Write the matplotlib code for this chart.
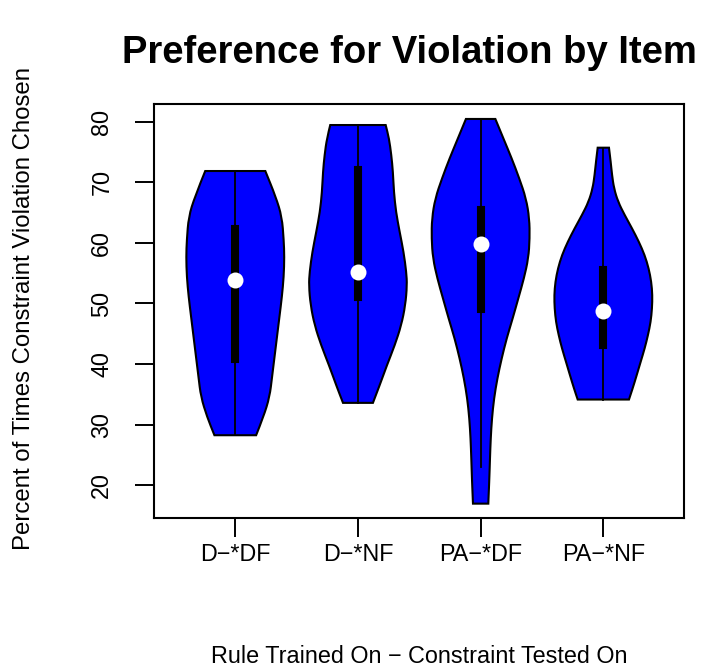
import matplotlib
matplotlib.use("Agg")
import matplotlib.pyplot as plt
from matplotlib.path import Path
from matplotlib.patches import PathPatch, Rectangle

plt.rcParams['font.family'] = ['Liberation Sans', 'DejaVu Sans']

# ---------------- data ----------------
categories = ["D\u2212*DF", "D\u2212*NF", "PA\u2212*DF", "PA\u2212*NF"]

# violin outlines: value levels (ascending) and half-widths (x units)
ddf_levels = [28.26, 31.3, 34.6, 37.9, 41.2, 44.5, 47.8, 51.1, 54.4, 57.7, 60.5, 64.3, 67.6, 71.86]
ddf_widths = [0.17, 0.23, 0.28, 0.30, 0.32, 0.34, 0.36, 0.38, 0.395, 0.40, 0.395, 0.38, 0.33, 0.245]

dnf_levels = [33.6, 36.5, 39.8, 43.1, 46.4, 49.7, 53.0, 55.2, 58.5, 61.8, 65.1, 68.4, 71.74, 74.5, 77.26, 79.45]
dnf_widths = [0.122, 0.177, 0.236, 0.30, 0.353, 0.386, 0.40, 0.394, 0.372, 0.34, 0.31, 0.293, 0.285, 0.272, 0.253, 0.226]

padf_levels = [16.97, 21.1, 24.41, 27.71, 31.01, 34.32, 37.62, 40.92, 44.23, 47.53, 50.83, 54.14,
               57.44, 60.74, 64.05, 67.35, 70.65, 73.96, 77.26, 80.45]
padf_widths = [0.0625, 0.071, 0.076, 0.082, 0.092, 0.109, 0.136, 0.171, 0.212, 0.261, 0.307, 0.353,
               0.389, 0.40, 0.397, 0.37, 0.315, 0.253, 0.185, 0.12]

panf_levels = [34.15, 35.97, 38.17, 40.36, 42.58, 44.77, 46.97, 49.18, 51.38, 53.58, 55.79, 57.99,
               60.18, 62.4, 64.59, 66.79, 69.0, 71.2, 73.39, 75.71]
panf_widths = [0.209, 0.239, 0.272, 0.304, 0.337, 0.364, 0.386, 0.397, 0.40, 0.391, 0.37, 0.337,
               0.29, 0.234, 0.174, 0.12, 0.087, 0.071, 0.06, 0.046]

q1 = [40.4, 50.55, 48.6, 42.67]
medians = [53.85, 55.2, 59.75, 48.8]
q3 = [62.8, 72.57, 65.96, 56.05]
whisker_low = [28.26, 33.6, 23.0, 34.15]
whisker_high = [71.86, 79.45, 80.45, 75.71]

y_ticks = [20, 30, 40, 50, 60, 70, 80]

title_text = "Preference for Violation by Item"
x_title = "Rule Trained On \u2212 Constraint Tested On"
y_title = "Percent of Times Constraint Violation Chosen"

# ---------------- drawing ----------------
W, H = 701, 669
fig = plt.figure(figsize=(W / 100, H / 100), dpi=100)
L, R, T, B = 154.3, 684.3, 104.3, 517.7
ax = fig.add_axes([L / W, 1 - B / H, (R - L) / W, (B - T) / H])
ax.set_xlim(0.34, 4.66)
ax.set_ylim(14.65, 82.87)


def violin_path(pos, levels, widths):
    right = [(pos + w, v) for v, w in zip(levels, widths)]
    left = [(pos - w, v) for v, w in zip(levels[::-1], widths[::-1])]
    verts = [right[0]]
    codes = [Path.MOVETO]

    def add_smooth(pts):
        for i in range(1, len(pts) - 1):
            mid = ((pts[i][0] + pts[i + 1][0]) / 2, (pts[i][1] + pts[i + 1][1]) / 2)
            verts.extend([pts[i], mid])
            codes.extend([Path.CURVE3, Path.CURVE3])
        verts.append(pts[-1])
        codes.append(Path.LINETO)

    add_smooth(right)
    verts.append(left[0])
    codes.append(Path.LINETO)
    add_smooth(left)
    verts.append(right[0])
    codes.append(Path.CLOSEPOLY)
    return Path(verts, codes)


shapes = [(ddf_levels, ddf_widths), (dnf_levels, dnf_widths),
          (padf_levels, padf_widths), (panf_levels, panf_widths)]

for i, (lev, wid) in enumerate(shapes):
    pos = i + 1
    ax.add_patch(PathPatch(violin_path(pos, lev, wid), facecolor='#0000ff',
                           edgecolor='black', lw=1.5, zorder=2))
    ax.plot([pos, pos], [whisker_low[i], whisker_high[i]], color='black', lw=1.3, zorder=3)
    ax.add_patch(Rectangle((pos - 0.025, q1[i]), 0.05, q3[i] - q1[i],
                           facecolor='black', edgecolor='black', lw=1.5, zorder=4))
    ax.plot([pos], [medians[i]], 'o', color='white', markersize=11.5,
            markeredgewidth=0, zorder=5)

for s in ax.spines.values():
    s.set_linewidth(1.5)
    s.set_color('black')

ax.set_xticks(range(1, len(categories) + 1))
ax.set_xticklabels(categories, fontsize=16.8)
ax.set_yticks(y_ticks)
ax.set_yticklabels([str(t) for t in y_ticks], fontsize=16.8, rotation=90, va='center')
ax.tick_params(axis='x', direction='out', length=13.5, width=1.4, pad=5.0, colors='black')
ax.tick_params(axis='y', direction='out', length=13.5, width=1.4, pad=16.0, colors='black')

fig.text(409 / W, 1 - 63 / H, title_text, fontsize=27.5, fontweight='bold',
         ha='center', va='baseline')
fig.text(419.3 / W, 1 - 663 / H, x_title, fontsize=16.8, ha='center', va='baseline')
fig.text(30 / W, 1 - 309 / H, y_title, fontsize=17.3, rotation=90, rotation_mode='anchor',
         ha='center', va='baseline')

fig.savefig("out.png", dpi=100)
